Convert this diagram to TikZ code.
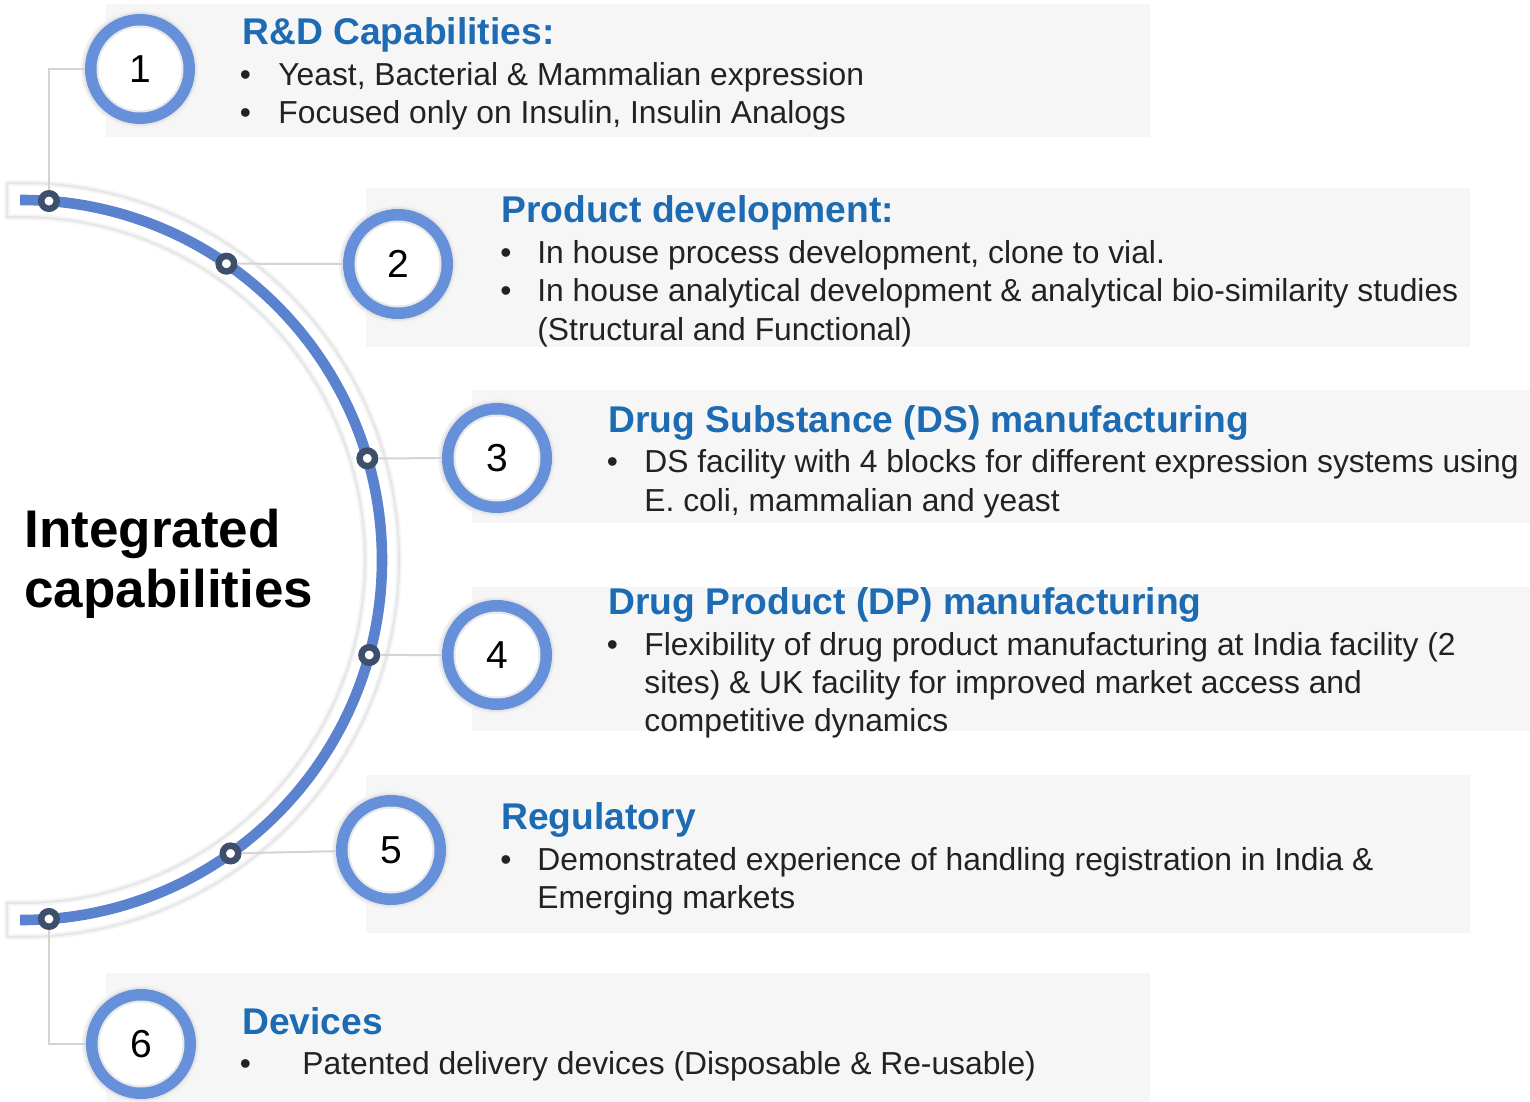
\documentclass[tikz,border=0pt]{standalone}
\usepackage{fontspec}
\setmainfont{Liberation Sans}
\usetikzlibrary{calc}
\definecolor{ringblue}{HTML}{6690DA}
\definecolor{arcblue}{HTML}{5B82CE}
\definecolor{dotcol}{HTML}{3E4F6C}
\definecolor{headblue}{HTML}{1C6BB3}
\definecolor{boxgray}{HTML}{F6F6F6}
\definecolor{txtcol}{HTML}{222222}
\definecolor{conncol}{HTML}{D4D4D4}
\definecolor{bandcol}{HTML}{E6E6E6}
\begin{document}
\begin{tikzpicture}[x=0.5pt,y=-0.5pt,
  numc/.style={circle, draw=ringblue, line width=6pt, fill=white, minimum size=49pt,
    inner sep=0pt, text=black, font=\fontsize{19.5}{22}\selectfont,
    preaction={draw=black!5, fill=none, line width=10pt},
    preaction={draw=black!10, fill=none, line width=8pt}},
  dotn/.style={circle, draw=dotcol, line width=3.25pt, fill=white, minimum size=7.75pt, inner sep=0pt},
  conn/.style={draw=conncol, line width=1pt},
  head/.style={anchor=base west, inner sep=0pt, text=headblue, font=\fontsize{18.6}{22}\selectfont\bfseries},
  body/.style={anchor=base west, inner sep=0pt, text=txtcol, font=\fontsize{15.9}{19}\selectfont},
  bul/.style={anchor=base west, inner sep=0pt, text=txtcol, font=\fontsize{15.9}{19}\selectfont},
  bigt/.style={anchor=base west, inner sep=0pt, text=black, font=\fontsize{26.5}{30}\selectfont\bfseries}
]
\useasboundingbox[fill=white] (0,0) rectangle (1530,1102);

% boxes
\fill[boxgray] (106,4) rectangle (1150,137);
\fill[boxgray] (366,188) rectangle (1470,347);
\fill[boxgray] (472,390) rectangle (1530,523);
\fill[boxgray] (472,587) rectangle (1530,731);
\fill[boxgray] (366,775) rectangle (1470,933);
\fill[boxgray] (106,973) rectangle (1150,1102);

% band around arc
\coordinate (c) at (22,560);
\draw[draw=black!4, line width=3pt, line join=round]
  ($(c)+(-92.28:377)$) arc[start angle=-92.28, end angle=92.28, radius=377]
  -- ($(c)+(92.5:343)$) arc[start angle=92.5, end angle=-92.5, radius=343] -- cycle;
\draw[draw=bandcol, line width=1pt, line join=round]
  ($(c)+(-92.28:377)$) arc[start angle=-92.28, end angle=92.28, radius=377]
  -- ($(c)+(92.5:343)$) arc[start angle=92.5, end angle=-92.5, radius=343] -- cycle;

% main arc
\draw[arcblue, line width=5.3pt] (20,200) -- (22,200) arc[start angle=-90, end angle=90, radius=360] -- (20,920);

% dots
\node[dotn] (d1) at ($(c)+(-85.7:360)$) {};
\node[dotn] (d2) at ($(c)+(-55.4:360)$) {};
\node[dotn] (d3) at ($(c)+(-16.4:360)$) {};
\node[dotn] (d4) at ($(c)+(15.3:360)$) {};
\node[dotn] (d5) at ($(c)+(54.6:360)$) {};
\node[dotn] (d6) at ($(c)+(85.7:360)$) {};

% number circles
\node[numc] (n1) at (140,69) {1};
\node[numc] (n2) at (398,264) {2};
\node[numc] (n3) at (497,458) {3};
\node[numc] (n4) at (497,655) {4};
\node[numc] (n5) at (391,850) {5};
\node[numc] (n6) at (141,1044) {6};
\foreach \n in {n1,n2,n3,n4,n5,n6}
  \draw[black!9, line width=1pt] (\n) circle[radius=42.5];

% connectors
\draw[conn] (d1.north) |- (n1.west);
\draw[conn] (d2) -- (n2);
\draw[conn] (d3) -- (n3);
\draw[conn] (d4) -- (n4);
\draw[conn] (d5) -- (n5);
\draw[conn] (d6.south) |- (n6.west);

% title
\node[bigt] (ta) at (24,547) {Integrated};
\node[bigt] (tb) at (24,607) {capabilities};

% box 1
\node[head] (h1) at (242,45) {R\&D Capabilities:};
\node[bul] (b1a) at (239.5,86) {•};
\node[body] (t1a) at (278,86) {Yeast, Bacterial \& Mammalian expression};
\node[bul] (b1b) at (239.5,124) {•};
\node[body] (t1b) at (278,124) {Focused only on Insulin, Insulin Analogs};

% box 2
\node[head] (h2) at (501,222) {Product development:};
\node[bul] (b2a) at (500,263) {•};
\node[body] (t2a) at (537,263) {In house process development, clone to vial.};
\node[bul] (b2b) at (500,301) {•};
\node[body] (t2b) at (537,301) {In house analytical development \& analytical bio-similarity studies};
\node[body] (t2c) at (537,340) {(Structural and Functional)};

% box 3
\node[head] (h3) at (608,432) {Drug Substance (DS) manufacturing};
\node[bul] (b3a) at (606.5,472) {•};
\node[body] (t3a) at (644,472) {DS facility with 4 blocks for different expression systems using};
\node[body] (t3b) at (644,511) {E. coli, mammalian and yeast};

% box 4
\node[head] (h4) at (608,614) {Drug Product (DP) manufacturing};
\node[bul] (b4a) at (606.5,655) {•};
\node[body] (t4a) at (644,655) {Flexibility of drug product manufacturing at India facility (2};
\node[body] (t4b) at (644,693) {sites) \& UK facility for improved market access and};
\node[body] (t4c) at (644,731) {competitive dynamics};

% box 5
\node[head] (h5) at (501,829) {Regulatory};
\node[bul] (b5a) at (500,870) {•};
\node[body] (t5a) at (537,870) {Demonstrated experience of handling registration in India \&};
\node[body] (t5b) at (537,908) {Emerging markets};

% box 6
\node[head] (h6) at (242,1034) {Devices};
\node[bul] (b6a) at (239.5,1074) {•};
\node[body] (t6a) at (302,1074) {Patented delivery devices (Disposable \& Re-usable)};
\end{tikzpicture}
\end{document}
